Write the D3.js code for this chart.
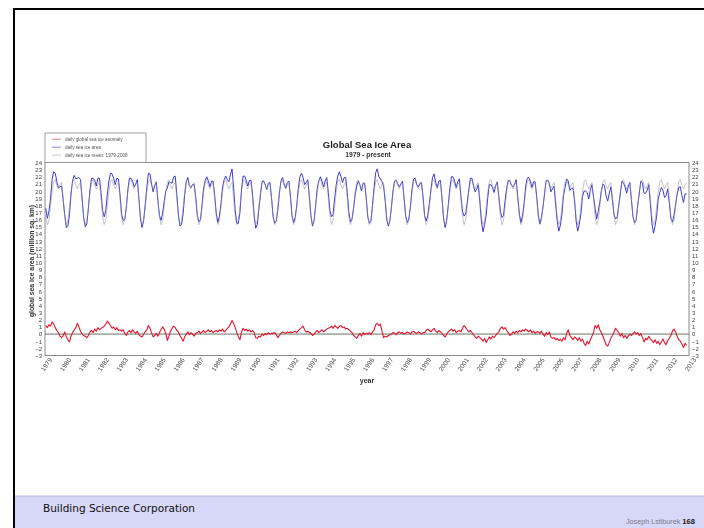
<!DOCTYPE html>
<html>
<head>
<meta charset="utf-8">
<script src="https://cdn.jsdelivr.net/npm/d3@7"></script>
<style>
  body { margin: 0; background: #fff; }
  svg { display: block; }
</style>
</head>
<body>
<svg id="slide" width="704" height="528"></svg>
<script>
// ---- data -------------------------------------------------------------
const firstYear = 1979;
const yearTicks = d3.range(1979, 2014);
const areaTicks = d3.range(-3, 25);

// 1979-2008 mean global sea ice area, million sq. km, by month (mid-month)
const monthlyMean = [16.4, 15.3, 15.9, 17.8, 19.9, 21.3, 21.6, 20.8, 20.3, 20.9, 21.2, 19.0];

// monthly global sea ice anomaly, million sq. km, one row per year from 1979
const monthlyAnomaly = [
  [ 1.2,  0.9,  1.3,  1.1,  1.7,  1.4,  0.9,  0.5,  0.2, -0.3, -0.5, -0.2], // 1979
  [ 0.3, -0.4, -0.8, -1.1, -0.3,  0.2,  0.6,  0.9,  1.5,  1.0,  0.4,  0.0], // 1980
  [-0.2, -0.3, -0.5, -0.2,  0.3,  0.5,  0.2,  0.7,  0.4,  0.9,  0.6,  0.8], // 1981
  [ 0.9,  1.1,  1.4,  1.8,  1.5,  1.2,  0.8,  1.0,  0.6,  0.9,  0.5,  0.6], // 1982
  [ 0.4,  0.6,  0.1, -0.2,  0.3,  0.5,  0.2,  0.6,  0.3,  0.1,  0.4, -0.1], // 1983
  [-0.3, -0.4,  0.0,  0.3,  0.6,  1.2,  0.8,  0.2, -0.4, -0.2,  0.1, -0.3], // 1984
  [ 0.2,  0.6,  1.0,  0.7,  0.1, -0.9, -0.3,  0.4,  0.8,  1.1,  0.9,  0.5], // 1985
  [ 0.3, -0.2, -0.6, -1.0, -0.4,  0.0,  0.3, -0.1,  0.2,  0.0, -0.3,  0.1], // 1986
  [ 0.2,  0.4,  0.1,  0.3,  0.5,  0.2,  0.4,  0.6,  0.3,  0.5,  0.2,  0.4], // 1987
  [ 0.5,  0.3,  0.6,  0.4,  0.7,  0.3,  0.5,  0.8,  1.0,  1.4,  1.9,  1.5], // 1988
  [ 0.9,  0.2, -0.4, -0.8,  0.3,  0.8,  0.5,  0.7,  0.4,  0.6,  0.3,  0.5], // 1989
  [ 0.2, -0.5, -0.6, -0.3, -0.4,  0.0, -0.2,  0.1, -0.1,  0.2,  0.0,  0.1], // 1990
  [ 0.1,  0.2, -0.1, -0.5, -0.2,  0.1,  0.3,  0.2,  0.1,  0.3,  0.2,  0.3], // 1991
  [ 0.2,  0.3,  0.4,  0.2,  0.5,  0.7,  0.9,  1.1,  0.6,  0.3,  0.4,  0.2], // 1992
  [ 0.1, -0.2,  0.0,  0.3,  0.5,  0.2,  0.4,  0.6,  0.3,  0.5,  0.7,  0.8], // 1993
  [ 0.9,  1.1,  0.8,  1.2,  1.0,  0.8,  1.1,  1.2,  0.9,  1.0,  0.7,  0.8], // 1994
  [ 0.6,  0.4,  0.2, -0.2, -0.4, -0.6, -0.2,  0.1, -0.3,  0.2, -0.1,  0.1], // 1995
  [ 0.0,  0.2, -0.1,  0.3,  0.6,  1.3,  1.5,  1.2,  1.4,  0.4, -0.5, -0.3], // 1996
  [-0.4, -0.2, -0.1,  0.0,  0.2,  0.1, -0.1,  0.2,  0.3,  0.1,  0.2,  0.0], // 1997
  [ 0.1,  0.3,  0.2,  0.0,  0.3,  0.4,  0.2,  0.1,  0.3,  0.2,  0.0,  0.2], // 1998
  [ 0.2,  0.5,  0.7,  0.5,  0.3,  0.6,  0.8,  0.4,  0.2,  0.5,  0.3,  0.1], // 1999
  [-0.2, -0.4,  0.0,  0.3,  0.5,  0.7,  0.4,  0.6,  0.2,  0.4,  0.5,  0.3], // 2000
  [ 0.8,  1.2,  0.9,  0.6,  0.3,  0.5,  0.2, -0.1, -0.4, -0.6, -0.3, -0.5], // 2001
  [-0.7, -1.0, -0.6, -1.2, -0.8, -0.4, -0.7, -0.3, -0.5, -0.2,  0.1,  0.3], // 2002
  [ 0.8,  1.0,  0.7,  0.9,  0.5,  0.2, -0.2,  0.0,  0.3,  0.1,  0.4,  0.2], // 2003
  [ 0.5,  0.3,  0.6,  0.4,  0.7,  0.5,  0.3,  0.6,  0.2,  0.4,  0.1,  0.3], // 2004
  [ 0.3,  0.1,  0.4,  0.0, -0.3,  0.2, -0.1,  0.3, -0.4, -0.6, -0.5, -0.8], // 2005
  [-0.6, -0.9, -0.7, -1.0, -0.5, -0.8,  0.1,  0.6, -0.2, -0.5, -0.8, -0.4], // 2006
  [-0.6, -0.9, -0.5, -1.0, -0.7, -1.3, -1.6, -1.0, -1.4, -0.8, -0.3,  0.2], // 2007
  [ 1.2,  0.8,  1.3,  0.6,  0.2, -0.3, -0.9, -1.5, -1.7, -1.2, -0.6, -0.2], // 2008
  [ 0.3,  0.8,  0.5,  0.2, -0.3,  0.1, -0.5, -0.2, -0.6, -0.3,  0.0, -0.2], // 2009
  [ 0.1,  0.3,  0.0,  0.2, -0.2,  0.1, -0.5, -1.1, -0.6, -0.8, -0.3, -0.7], // 2010
  [-0.9, -1.2, -0.8, -1.3, -1.0, -1.5, -1.1, -0.7, -1.2, -1.5, -0.9, -0.6], // 2011
  [-0.2,  0.4,  0.7,  0.3, -0.3, -0.8, -1.0, -1.4, -1.9, -1.3, -1.6]        // 2012
];

const legendLabels = ["daily global sea ice anomaly", "daily sea ice area", "daily sea ice mean: 1979-2008"];

// ---- series built from the tables ----------------------------------
const anomalySeries = [];
const areaSeries = [];
const meanSeries = [];
monthlyAnomaly.forEach((row, i) => {
  row.forEach((a, m) => {
    const t = firstYear + i + (m + 0.5) / 12;
    anomalySeries.push({ t, v: a });
    areaSeries.push({ t, v: monthlyMean[m] + a });   // area = mean + anomaly
    meanSeries.push({ t, v: monthlyMean[m] });
  });
});

// ---- slide frame -------------------------------------------------------
const svg = d3.select("#slide");
svg.append("rect").attr("width", 704).attr("height", 528).attr("fill", "#fff");

// footer band
svg.append("rect").attr("x", 15).attr("y", 496).attr("width", 689).attr("height", 32)
  .attr("fill", "#d7d7f7");
svg.append("line").attr("x1", 15).attr("x2", 704).attr("y1", 496).attr("y2", 496)
  .attr("stroke", "#b8b8e6").attr("stroke-width", 1);

// black top and left rules
svg.append("rect").attr("x", 13).attr("y", 8).attr("width", 691).attr("height", 2).attr("fill", "#000");
svg.append("rect").attr("x", 13).attr("y", 8).attr("width", 2).attr("height", 520).attr("fill", "#000");

svg.append("text").attr("x", 43).attr("y", 512)
  .attr("font-family", "DejaVu Sans, Verdana, sans-serif").attr("font-size", 10.5)
  .attr("fill", "#111").text("Building Science Corporation");

const credit = svg.append("text").attr("x", 695).attr("y", 524).attr("text-anchor", "end")
  .attr("font-family", "Liberation Sans, Arial, sans-serif").attr("font-size", 7.2);
credit.append("tspan").attr("fill", "#7a7a8a").text("Joseph Lstiburek ");
credit.append("tspan").attr("fill", "#222").attr("font-weight", "bold").attr("font-size", 7.6).text("168");

// ---- chart -------------------------------------------------------------
const defs = svg.append("defs");
defs.append("filter").attr("id", "soft").attr("x", "-5%").attr("y", "-5%")
  .attr("width", "110%").attr("height", "110%")
  .append("feGaussianBlur").attr("stdDeviation", 0.45);

const chart = svg.append("g").attr("filter", "url(#soft)")
  .attr("font-family", "Liberation Sans, Arial, sans-serif");

const plotLeft = 45, plotRight = 689, plotTop = 162.5, plotBottom = 355.5;
const x = d3.scaleLinear().domain([1979, 2013]).range([plotLeft, plotRight]);
const y = d3.scaleLinear().domain([-3, 24]).range([plotBottom, plotTop]);

// plot frame
chart.append("rect").attr("x", plotLeft).attr("y", plotTop)
  .attr("width", plotRight - plotLeft).attr("height", plotBottom - plotTop)
  .attr("fill", "#fff").attr("stroke", "#8a8a8a").attr("stroke-width", 1);

// zero line of the anomaly
chart.append("line").attr("x1", plotLeft).attr("x2", plotRight)
  .attr("y1", y(0)).attr("y2", y(0))
  .attr("stroke", "#66735f").attr("stroke-width", 1);

const line = d3.line().x(d => x(d.t)).y(d => y(d.v));

chart.append("path").datum(areaSeries).attr("d", line)
  .attr("fill", "none").attr("stroke", "#3232d2").attr("stroke-width", 0.95)
  .attr("stroke-linejoin", "round");
chart.append("path").datum(meanSeries).attr("d", line)
  .attr("fill", "none").attr("stroke", "#8f8f9c").attr("stroke-width", 0.7)
  .attr("stroke-opacity", 0.75);
chart.append("path").datum(anomalySeries).attr("d", line)
  .attr("fill", "none").attr("stroke", "#e3152f").attr("stroke-width", 1.1)
  .attr("stroke-linejoin", "round");

// axes
const styleAxis = g => {
  g.select(".domain").remove();
  g.selectAll("text").attr("font-size", 6).attr("fill", "#444")
    .attr("font-family", "Liberation Sans, Arial, sans-serif");
};

chart.append("g").attr("transform", `translate(${plotLeft},0)`)
  .call(d3.axisLeft(y).tickValues(areaTicks).tickSize(0).tickPadding(3))
  .call(styleAxis);

chart.append("g").attr("transform", `translate(${plotRight},0)`)
  .call(d3.axisRight(y).tickValues(areaTicks).tickSize(0).tickPadding(3))
  .call(styleAxis);

const xAxis = chart.append("g").attr("transform", `translate(0,${plotBottom})`)
  .call(d3.axisBottom(x).tickValues(yearTicks).tickFormat(d3.format("d")).tickSize(0))
  .call(styleAxis);
xAxis.selectAll("text")
  .attr("font-size", 6.5)
  .attr("y", 0).attr("dy", "0.35em")
  .attr("text-anchor", "middle")
  .attr("transform", "translate(1,9) rotate(-55)");

// titles
chart.append("text").attr("x", 367).attr("y", 148).attr("text-anchor", "middle")
  .attr("font-weight", "bold").attr("font-size", 9.5).attr("fill", "#222")
  .text("Global Sea Ice Area");
chart.append("text").attr("x", 368).attr("y", 157).attr("text-anchor", "middle")
  .attr("font-weight", "bold").attr("font-size", 6.8).attr("fill", "#333")
  .text("1979 - present");
chart.append("text").attr("x", 367).attr("y", 383).attr("text-anchor", "middle")
  .attr("font-weight", "bold").attr("font-size", 7).attr("fill", "#333")
  .text("year");
chart.append("text").attr("transform", `translate(34,${(plotTop + plotBottom) / 2 + 2}) rotate(-90)`)
  .attr("text-anchor", "middle")
  .attr("font-weight", "bold").attr("font-size", 6.8).attr("fill", "#333")
  .text("global sea ice area (million sq. km)");

// legend
const legend = chart.append("g");
legend.append("rect").attr("x", 45).attr("y", 133).attr("width", 101).attr("height", 29.5)
  .attr("fill", "#fff").attr("stroke", "#8a8a8a").attr("stroke-width", 0.8);
const legendColors = ["#c03040", "#3a3ac0", "#9a9aa6"];
legendLabels.forEach((label, i) => {
  const ly = 139.3 + i * 7.9;
  legend.append("line").attr("x1", 52).attr("x2", 61).attr("y1", ly).attr("y2", ly)
    .attr("stroke", legendColors[i]).attr("stroke-width", 0.6);
  legend.append("text").attr("x", 65).attr("y", ly + 1.6)
    .attr("font-size", 4.6).attr("fill", "#555").text(label);
});
</script>
</body>
</html>
